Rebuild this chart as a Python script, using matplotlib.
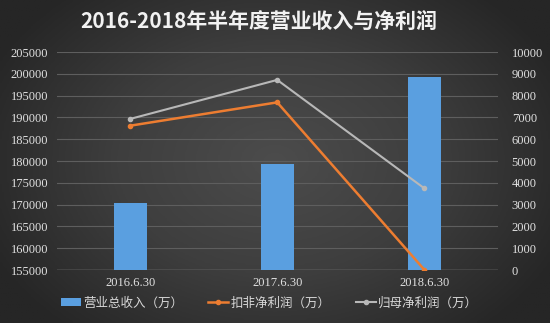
import numpy as np
import matplotlib.pyplot as plt
from matplotlib.colors import LinearSegmentedColormap

plt.rcParams["font.family"] = ["Noto Sans CJK SC", "DejaVu Sans"]
plt.rcParams["axes.unicode_minus"] = False

dates = ["2016.6.30", "2017.6.30", "2018.6.30"]
revenue = [170400, 179300, 199300]          # 营业总收入（万）
net_deducted = [6620, 7690, 20]             # 扣非净利润（万）
net_parent = [6930, 8720, 3750]             # 归母净利润（万）

fig = plt.figure(figsize=(5.5, 3.23), dpi=100)

# dark radial background
bg = fig.add_axes([0, 0, 1, 1], zorder=-10)
yy, xx = np.mgrid[-1:1:200j, -1:1:300j]
r = np.sqrt((xx / 1.15) ** 2 + (yy / 1.4) ** 2)
bg_cmap = LinearSegmentedColormap.from_list("bg", ["#4c4c4c", "#3e3e3e", "#262626"])
bg.imshow(r, cmap=bg_cmap, vmin=0, vmax=1.0, aspect="auto",
          extent=[0, 1, 0, 1])
bg.axis("off")

ax = fig.add_axes([0.103, 0.164, 0.802, 0.675])
ax.set_facecolor("none")
x = np.arange(len(dates))
ax.bar(x, revenue, width=0.225, color="#5a9fe0", zorder=3, label="营业总收入（万）")
ax.set_ylim(155000, 205000)
ax.set_yticks(range(155000, 205001, 5000))
ax.set_xlim(-0.5, 2.5)
ax.set_xticks(x)
ax.set_xticklabels(dates, fontfamily="Liberation Serif", fontsize=9, color="#e0e0e0")
ax.tick_params(axis="y", labelsize=9, colors="#e0e0e0", length=0, pad=6)
ax.tick_params(axis="x", length=0, pad=5)
for lbl in ax.get_yticklabels():
    lbl.set_fontfamily("Liberation Serif")
ax.grid(axis="y", color="#5e5e5e", lw=0.8, zorder=0)
for s in ax.spines.values():
    s.set_visible(False)
ax.axhline(155000, color="#8e8e8e", lw=1, zorder=2)

ax2 = ax.twinx()
ax2.plot(x, net_deducted, color="#ed7d31", lw=1.8, marker="o", ms=3,
         zorder=4, label="扣非净利润（万）")
ax2.plot(x, net_parent, color="#b8b8b8", lw=1.5, marker="o", ms=3,
         zorder=4, label="归母净利润（万）")
ax2.set_ylim(0, 10000)
ax2.set_yticks(range(0, 10001, 1000))
ax2.tick_params(axis="y", labelsize=9, colors="#e0e0e0", length=0, pad=10)
for lbl in ax2.get_yticklabels():
    lbl.set_fontfamily("Liberation Serif")
for s in ax2.spines.values():
    s.set_visible(False)

fig.text(0.47, 0.935, "2016-2018年半年度营业收入与净利润", ha="center", va="center",
         fontsize=15, fontweight="bold", color="#f2f2f2")

h1, l1 = ax.get_legend_handles_labels()
h2, l2 = ax2.get_legend_handles_labels()
leg = fig.legend(h1 + h2, l1 + l2, loc="center", bbox_to_anchor=(0.49, 0.062),
                 ncol=3, frameon=False, fontsize=9, handlelength=1.6,
                 handletextpad=0.2, columnspacing=2.0)
for t in leg.get_texts():
    t.set_color("#d8d8d8")

fig.savefig("out.png", dpi=100)
